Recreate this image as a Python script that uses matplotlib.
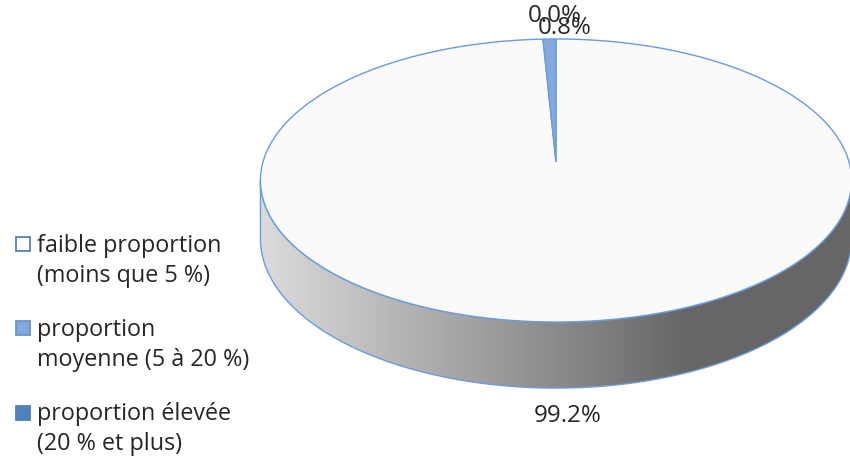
import numpy as np
import matplotlib
matplotlib.use("Agg")
import matplotlib.pyplot as plt
from matplotlib.patches import Polygon, Rectangle

# ---- data ----
categories = ["faible proportion\n(moins que 5 %)",
              "proportion\nmoyenne (5 à 20 %)",
              "proportion élevée\n(20 % et plus)"]
values = [99.2, 0.8, 0.0]
value_labels = ["99.2%", "0.8%", "0.0%"]
colors = ["#fafafa", "#82aadf", "#4f81bd"]

# ---- style / geometry ----
FONT = "Open Sans"
FS = 16.8
TXT = "#262626"
EDGE = "#6a9bdc"
CX, CY = 556.0, 162.0      # projected centre
A, B, K = 293.0, 139.1, 0.1307   # perspective ellipse parameters
DEPTH = 57.4

fig = plt.figure(figsize=(8.5, 4.58), dpi=100)
ax = fig.add_axes([0, 0, 1, 1])
ax.set_axis_off()


def proj(u, v, depth=0.0):
    w = 1.0 + K * v
    return CX + A * u / w, CY - (B * v - depth) / w


# ---- side of the pie (front part) ----
phiL = np.pi + np.arcsin(K)
phiR = 2 * np.pi - np.arcsin(K)
ts = np.linspace(phiL, phiR, 300)
tx, ty = proj(np.cos(ts), np.sin(ts))
bx, by = proj(np.cos(ts[::-1]), np.sin(ts[::-1]), DEPTH)
side_xy = np.column_stack([np.r_[tx, bx], np.r_[ty, by]])
side = Polygon(side_xy, closed=True, facecolor="none", edgecolor=EDGE, lw=1.0, zorder=3)
ax.add_patch(side)

xs = np.linspace(240, 860, 400)
g = np.clip(0.86 - (xs - 261) / (690 - 261) * (0.86 - 0.40), 0.40, 0.86)
img = np.dstack([g, g, g]).reshape(1, -1, 3)
im = ax.imshow(img, extent=[240, 860, 420, 150], aspect="auto", zorder=2,
               interpolation="bilinear")
clip = Polygon(side_xy, closed=True, transform=ax.transData)
im.set_clip_path(clip)

# ---- top face slices ----
total = sum(values)
start = 90.0
for val, col in zip(values, colors):
    sweep = 360.0 * val / total
    if sweep > 0:
        th = np.radians(np.linspace(start, start - sweep, max(int(sweep * 2), 8)))
        px, py = proj(np.cos(th), np.sin(th))
        poly = np.column_stack([np.r_[CX, px], np.r_[CY, py]])
        ax.add_patch(Polygon(poly, closed=True, facecolor=col, edgecolor=EDGE,
                             lw=1.0, zorder=4))
    start -= sweep

# ---- data labels ----
label_pos = [(568, 416), (565, 28), (555, 16)]
for (lx, ly), lab, z in zip(label_pos, value_labels, [5, 6, 5]):
    ax.text(lx, ly, lab, fontsize=FS + 0.6, family=FONT, color=TXT,
            ha="center", va="center", zorder=z)

# ---- legend ----
leg_y = [244.5, 328.5, 413.0]
edge_cols = ["#4f81bd", "#6b93c7", "#4f81bd"]
for y, cat, col, ec in zip(leg_y, categories, colors, edge_cols):
    fc = "white" if col == colors[0] else col
    ax.add_patch(Rectangle((16.5, y - 7.5), 14, 14, facecolor=fc, edgecolor=ec,
                           lw=1.3, zorder=5))
    for i, line in enumerate(cat.split("\n")):
        ax.text(37, y + 7 + 30 * i, line, fontsize=FS, family=FONT, color=TXT,
                ha="left", va="baseline")

ax.set_xlim(0, 850)
ax.set_ylim(458, 0)
fig.savefig("out.png", dpi=100, facecolor="white")
